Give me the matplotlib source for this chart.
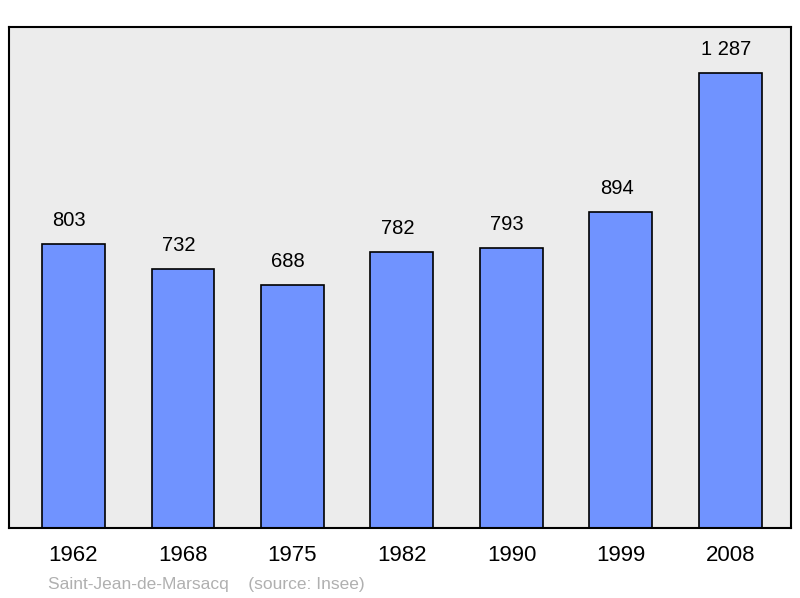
import matplotlib
matplotlib.use("Agg")
import matplotlib.pyplot as plt

years = ["1962", "1968", "1975", "1982", "1990", "1999", "2008"]
values = [803, 732, 688, 782, 793, 894, 1287]
labels = ["803", "732", "688", "782", "793", "894", "1 287"]

plt.rcParams['font.family'] = ['Liberation Sans', 'DejaVu Sans']
fig = plt.figure(figsize=(8, 5.98), dpi=100)
ax = fig.add_axes([9/800, 1-528/598, 782/800, 501/598])
ax.set_facecolor('#ececec')
x = list(range(len(years)))
ax.bar(x, values, width=0.575, color='#7093ff', edgecolor='black', linewidth=1.2, zorder=2)
for xi, v, l in zip(x, values, labels):
    ax.annotate(l, (xi - 0.04, v), xytext=(0, 10), textcoords='offset points', ha='center', va='bottom', fontsize=14.5)
ax.set_xlim(-0.589, 6.553)
ax.set_ylim(0, 1417)
ax.set_yticks([])
ax.set_xticks(x)
ax.set_xticklabels(years, fontsize=16)
ax.tick_params(axis='x', length=0, pad=12)
for s in ax.spines.values():
    s.set_linewidth(1.5)
fig.text(48/800, 1-584/598, "Saint-Jean-de-Marsacq    (source: Insee)", color='#b0b0b0', fontsize=12.5, va='center')
fig.savefig("out.png", dpi=100)
